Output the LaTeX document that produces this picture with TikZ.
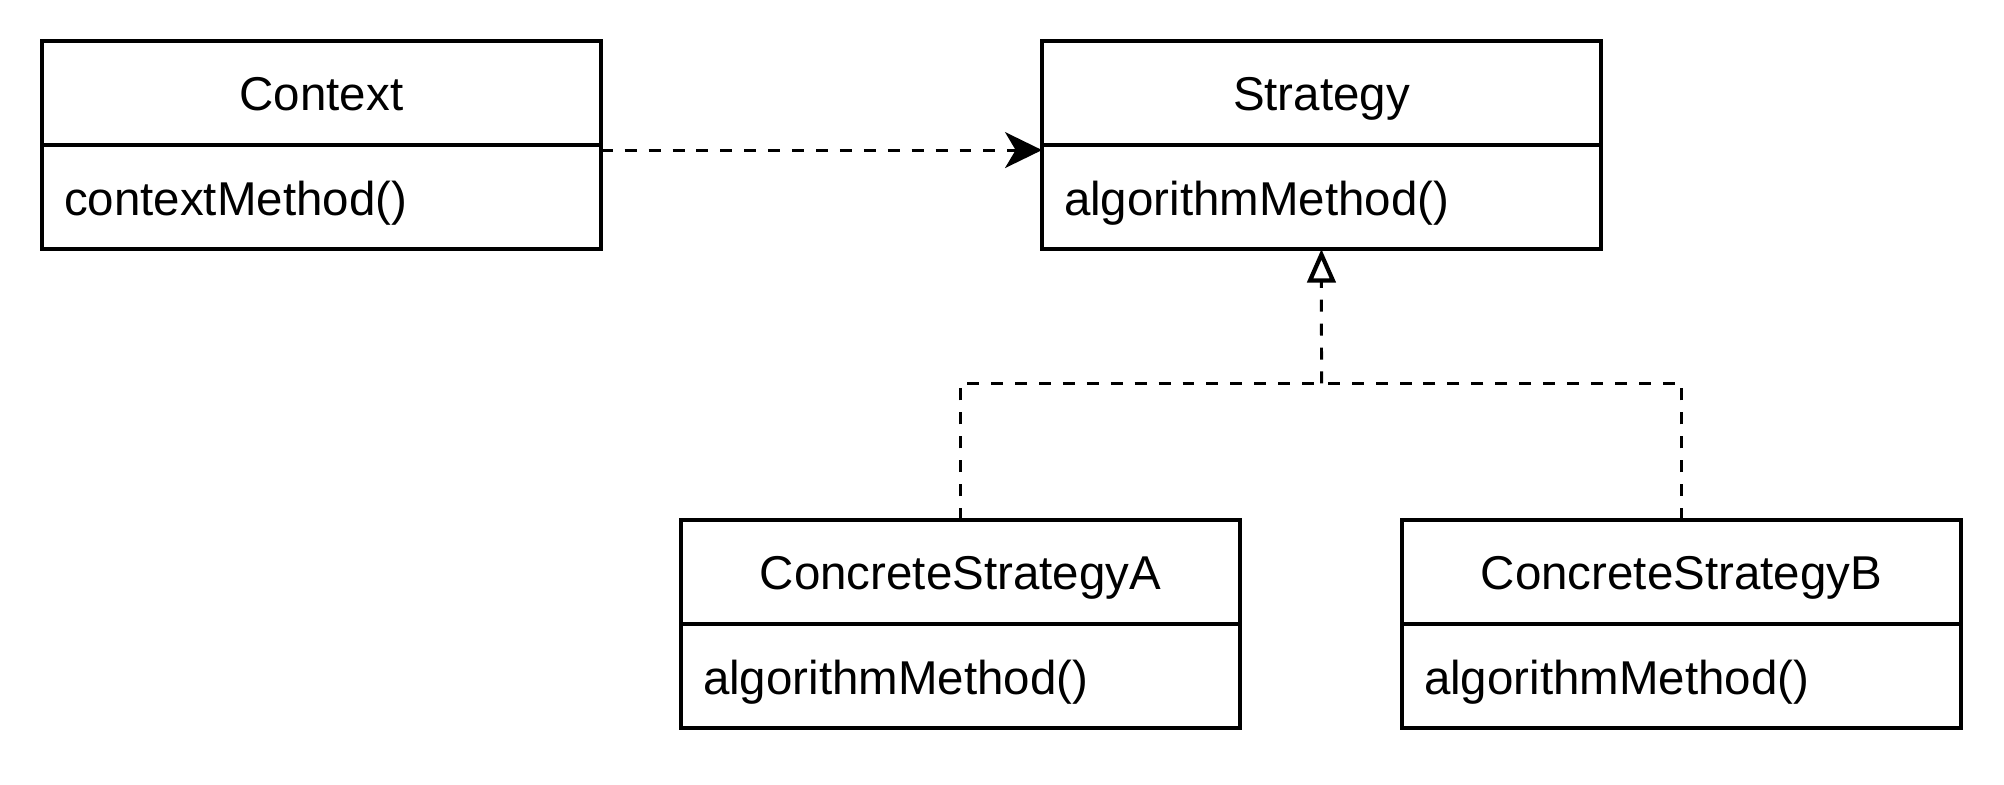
\documentclass[tikz,border=0pt]{standalone}
\usepackage{fontspec}
\setmainfont{Liberation Sans}
\usetikzlibrary{arrows.meta}
\begin{document}
\begin{tikzpicture}[x=0.01cm,y=-0.01cm,
 cls/.style={draw, line width=0.95pt, minimum width=5.585cm, minimum height=1.04cm, inner sep=0pt, outer sep=0pt, font=\fontsize{13.5}{16}\selectfont, text height=10.2pt, text depth=0pt},
 hdr/.style={cls, anchor=north west, align=center},
 mth/.style={cls, anchor=north, text width=5.145cm, inner xsep=0.22cm, align=left},
 dep/.style={line width=0.85pt, dash pattern=on 3.4pt off 3.4pt},
]
\useasboundingbox (0,0) rectangle (2004,784);
% classes
\node[hdr] (ctx) at (42,41) {Context};
\node[mth] (ctxm) at (ctx.south) {contextMethod()};
\node[hdr] (str) at (1042,41) {Strategy};
\node[mth] (strm) at (str.south) {algorithmMethod()};
\node[hdr] (csa) at (681,520) {ConcreteStrategyA};
\node[mth] (csam) at (csa.south) {algorithmMethod()};
\node[hdr] (csb) at (1402,520) {ConcreteStrategyB};
\node[mth] (csbm) at (csb.south) {algorithmMethod()};
% dependency
\draw[dep, -{Stealth[length=10.5pt, width=10.2pt, inset=3pt]}]
  ([yshift=-0.05cm]ctxm.north east) -- ([yshift=-0.05cm]strm.north west);
% realization
\coordinate (j) at (1321.5,383.4);
\draw[dep] (csa.north) |- (j);
\draw[dep] (csb.north) |- (j);
\draw[dep, -{Triangle[open, length=9.5pt, width=8pt, line width=1.2pt]}] (j) -- (strm.south);
\end{tikzpicture}
\end{document}
